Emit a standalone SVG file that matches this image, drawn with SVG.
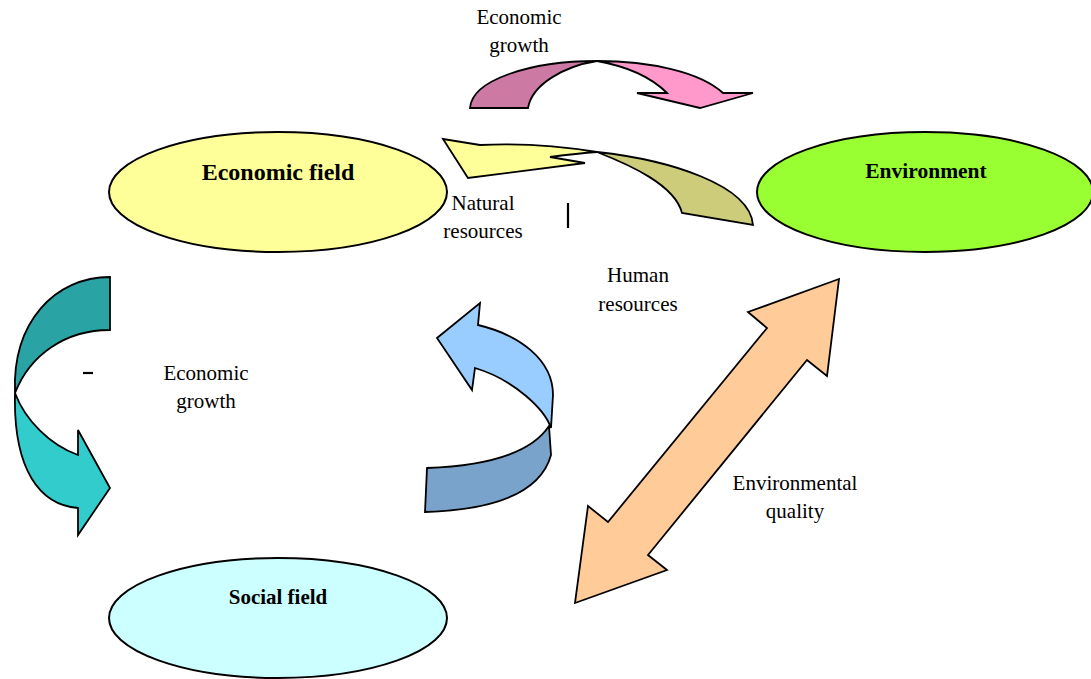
<svg xmlns="http://www.w3.org/2000/svg" width="1091" height="679" viewBox="0 0 1091 679">
  <style>
    .node { stroke: #000; stroke-width: 2; }
    .arrow { stroke: #000; stroke-width: 1.8; stroke-linejoin: miter; }
    .title { font-family: "Liberation Serif", "Times New Roman", serif; font-weight: bold; text-anchor: middle; fill: #000; }
    .label { font-family: "Liberation Serif", "Times New Roman", serif; font-size: 21px; text-anchor: middle; fill: #000; }
    .tick { stroke: #000; stroke-width: 2.2; }
  </style>
  <rect width="1091" height="679" fill="#fff"/>

  <!-- connectors: curved and straight block arrows -->
  <g id="connectors">
    <!-- economic field -> environment (top arc) -->
    <g id="arc-economic-growth-top">
      <path class="arrow" fill="#CC7AA3" d="M470,108 C472,80 530,61 597,61 C565,66 532,84 528,108 Z"/>
      <path class="arrow" fill="#FF99CC" d="M597,61 C650,61 700,72 723,93 L753,93 L700,108 L637,93 L667,93 C650,76 625,66 597,61 Z"/>
    </g>
    <!-- environment -> economic field (natural resources) -->
    <g id="arc-natural-resources">
      <path class="arrow" fill="#CCCC7A" d="M597,152 C670,160 750,185 753,225 L682,213 C675,185 630,165 597,152 Z"/>
      <path class="arrow" fill="#FFFF99" d="M443,139 L480,145 C520,143 560,146 597,152 C582,153 565,155 550,157 L585,163 L468,178 Z"/>
    </g>
    <!-- economic field -> social field -->
    <g id="arc-economic-growth-left">
      <path class="arrow" fill="#29A3A3" d="M110,277 L110,330 C65,330 30,355 15,393 C12,322 55,277 110,277 Z"/>
      <path class="arrow" fill="#33CCCC" d="M15,393 C25,420 50,445 78,455 L78,430 L110,488 L78,535 L78,508 C40,505 13,470 15,393 Z"/>
    </g>
    <!-- social field -> economic field (human resources) -->
    <g id="arc-human-resources">
      <path class="arrow" fill="#7AA3CC" d="M549,426 L551,455 C540,495 490,510 425,512 L427,468 C480,466 530,455 549,426 Z"/>
      <path class="arrow" fill="#99CCFF" d="M437,338 L480,303 L478,325 C520,335 553,360 553,395 L551,428 C545,410 515,380 475,368 L472,390 Z"/>
    </g>
    <!-- environment <-> social field -->
    <polygon id="arrow-environmental-quality" class="arrow" fill="#FFCC99" points="839,279 748,312 767,328 608,522 588,506 575,603 667,570 648,555 807,360 827,376"/>

    <line class="tick" x1="568" y1="203" x2="568" y2="228"/>
    <line class="tick" x1="83" y1="373" x2="93" y2="373"/>

    <text class="label" x="519" y="24">Economic</text>
    <text class="label" x="519" y="52">growth</text>
    <text class="label" x="483" y="210">Natural</text>
    <text class="label" x="483" y="238">resources</text>
    <text class="label" x="638" y="282">Human</text>
    <text class="label" x="638" y="311">resources</text>
    <text class="label" x="206" y="380">Economic</text>
    <text class="label" x="206" y="408">growth</text>
    <text class="label" x="795" y="490">Environmental</text>
    <text class="label" x="795" y="518">quality</text>
  </g>

  <g id="economic-field">
    <ellipse class="node" cx="278" cy="192" rx="169" ry="60" fill="#FFFF99"/>
    <text class="title" x="278" y="180" font-size="24">Economic field</text>
  </g>

  <g id="environment">
    <ellipse class="node" cx="925" cy="192" rx="168" ry="60" fill="#99FF33"/>
    <text class="title" x="926" y="178" font-size="21.5">Environment</text>
  </g>

  <g id="social-field">
    <ellipse class="node" cx="278" cy="618" rx="169" ry="60" fill="#CCFFFF"/>
    <text class="title" x="278" y="604" font-size="21">Social field</text>
  </g>
</svg>
